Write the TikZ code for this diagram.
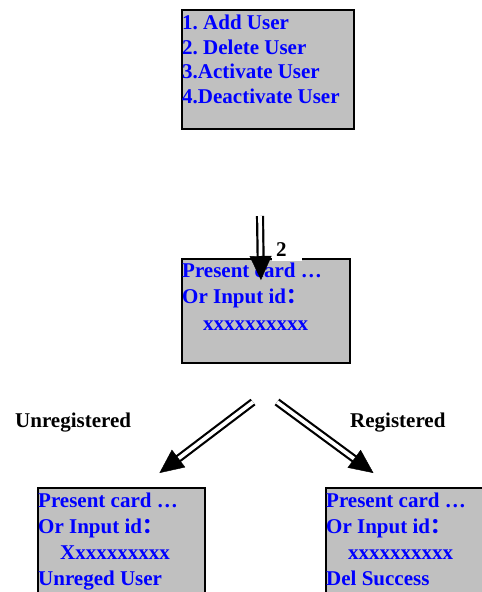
\documentclass[tikz,border=0pt]{standalone}
\usepackage{fontspec}
\setmainfont{Liberation Serif}
\newfontfamily\cjk{Noto Sans CJK SC}
\usetikzlibrary{arrows, arrows.meta, positioning, calc}
\frenchspacing
\definecolor{screengray}{HTML}{C0C0C0}
\tikzstyle{screen} = [rectangle, draw=black, fill=screengray, line width=1.9pt, inner sep=0pt, anchor=north west]
\tikzstyle{screentext} = [anchor=base west, inner sep=0pt, align=left, text=blue, font=\fontsize{21}{26}\selectfont\bfseries]
\tikzstyle{caption} = [anchor=base west, inner sep=0pt, font=\fontsize{21}{25}\selectfont\bfseries]
\tikzstyle{tag} = [fill=white, inner xsep=4pt, inner ysep=0pt, text width=22pt, minimum height=23pt, align=left, font=\fontsize{21}{25}\selectfont\bfseries]
\tikzstyle{arrow} = [double, double distance=3.7pt, line width=2.2pt, shorten >=21pt]
\tikzstyle{arrowtip} = [line width=0.4pt, -{Triangle[length=24pt, width=22pt]}]

\begin{document}
\begin{tikzpicture}[x=1pt, y=-1pt]
            \clip (0,0) rectangle (482,592);

            % The screens
            \node[screen, minimum width=172pt, minimum height=119pt] (menu) at (181,9) {};
            \node[screentext, font=\fontsize{21}{24.5}\selectfont\bfseries] (menu_text) at ($(menu.north west)+(1,94)$)
                {1. Add User\\
                    2. Delete User\\
                    3.Activate User\\
                    4.Deactivate User};
            \node[screen, minimum width=168pt, minimum height=104pt] (query) at (181,258) {};
            \node[screentext, font=\fontsize{21}{26.5}\selectfont\bfseries] (query_text) at ($(query.north west)+(1,72)$)
                {Present card \dots\\
                    Or Input id\cjk{：}\\
                    \hspace*{21pt}xxxxxxxxxx};
            \node[screen, minimum width=167pt, minimum height=120pt] (unreg) at (37,487) {};
            \node[screentext] (unreg_text) at ($(unreg.north west)+(1,98)$)
                {Present card \dots\\
                    Or Input id\cjk{：}\\
                    \hspace*{22pt}Xxxxxxxxxx\\
                    Unreged User};
            \node[screen, minimum width=167pt, minimum height=120pt] (reg) at (325,487) {};
            \node[screentext] (reg_text) at ($(reg.north west)+(1,98)$)
                {Present card \dots\\
                    Or Input id\cjk{：}\\
                    \hspace*{22pt}xxxxxxxxxx\\
                    Del Success};

            % The transitions
            \coordinate (card_in) at (260,216);
            \coordinate (card_tip) at ([xshift=-5pt, yshift=-22pt]query.north);
            \coordinate (fork_west) at (253,402);
            \coordinate (unreg_tip) at ($(unreg.north)+(38,-14)$);
            \coordinate (fork_east) at (277,402);
            \coordinate (reg_tip) at ($(reg.north)+(-36,-14)$);

            \draw[arrow] (card_in) -- (card_tip);
            \draw[arrowtip] ($(card_tip)!24pt!(card_in)$) -- (card_tip);
            \draw[arrow] (fork_west) -- (unreg_tip);
            \draw[arrowtip] ($(unreg_tip)!24pt!(fork_west)$) -- (unreg_tip);
            \draw[arrow] (fork_east) -- (reg_tip);
            \draw[arrowtip] ($(reg_tip)!24pt!(fork_east)$) -- (reg_tip);

            \node[tag] (step_two) at (287,249.5) {\raisebox{-3pt}{2}};
            \node[caption] (unreg_label) at (15,427) {Unregistered};
            \node[caption] (reg_label) at (350,427) {Registered};
        \end{tikzpicture}
\end{document}
